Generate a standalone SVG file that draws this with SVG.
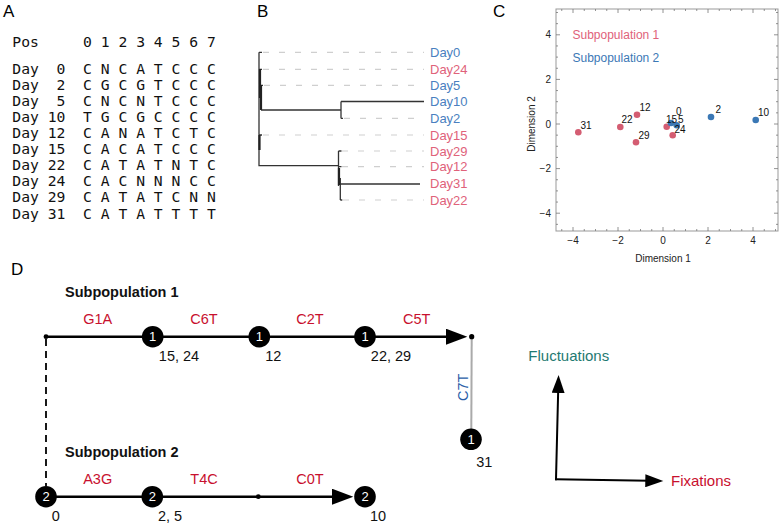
<svg xmlns="http://www.w3.org/2000/svg" width="780" height="523" viewBox="0 0 780 523">
<style>
text{font-family:"Liberation Sans",Arial,Helvetica,sans-serif}
.plab{font-size:17px;fill:#000}
.mono{font-family:"DejaVu Sans Mono",monospace;font-size:14.7px;fill:#111}
.leafB{font-size:13px;fill:#4a7fc0}
.leafR{font-size:13px;fill:#e0627a}
.tree{stroke:#333;stroke-width:1.3;fill:none}
.lead{stroke:#cfcfcf;stroke-width:1.2;stroke-dasharray:6 10;fill:none}
.tick{font-size:10px;fill:#222}
.axl{font-size:10px;fill:#222}
.pl{font-size:10px;fill:#111}
.pr{fill:#d45d72}
.pb{fill:#3b78b5}
.mut{font-size:14.5px;fill:#c8102e;text-anchor:middle}
.day{font-size:14.5px;fill:#111;text-anchor:middle}
.sub{font-size:14.5px;font-weight:bold;fill:#111}
.node circle{fill:#000}
.node text{font-size:13px;fill:#fff;text-anchor:middle}
.main{stroke:#000;stroke-width:2.5;fill:none}
</style>
<defs>
<marker id="big" markerUnits="userSpaceOnUse" markerWidth="22" markerHeight="16" refX="4" refY="8" orient="auto">
<path d="M0,0 L21.3,8 L0,16 z" fill="#000"/>
</marker>
<marker id="ax" markerUnits="userSpaceOnUse" markerWidth="19" markerHeight="13" refX="3" refY="6.5" orient="auto">
<path d="M0,0 L18,6.5 L0,13 z" fill="#000"/>
</marker>
</defs>

<!-- Panel labels -->
<text class="plab" x="3" y="17">A</text>
<text class="plab" x="257" y="17">B</text>
<text class="plab" x="493" y="17">C</text>
<text class="plab" x="11" y="275">D</text>

<!-- Panel A -->
<g id="alignment">
<text class="mono" x="12.3" y="47">Pos</text>
<text class="mono" x="83.1" y="47">0 1 2 3 4 5 6 7</text>
<text class="mono" x="12.3" y="73.6">Day</text><text class="mono" x="65.4" y="73.6" text-anchor="end">0</text><text class="mono" x="83.1" y="73.6">C N C A T C C C</text>
<text class="mono" x="12.3" y="89.7">Day</text><text class="mono" x="65.4" y="89.7" text-anchor="end">2</text><text class="mono" x="83.1" y="89.7">C G C G T C C C</text>
<text class="mono" x="12.3" y="105.8">Day</text><text class="mono" x="65.4" y="105.8" text-anchor="end">5</text><text class="mono" x="83.1" y="105.8">C N C N T C C C</text>
<text class="mono" x="12.3" y="121.9">Day</text><text class="mono" x="65.4" y="121.9" text-anchor="end">10</text><text class="mono" x="83.1" y="121.9">T G C G C C C C</text>
<text class="mono" x="12.3" y="138">Day</text><text class="mono" x="65.4" y="138" text-anchor="end">12</text><text class="mono" x="83.1" y="138">C A N A T C T C</text>
<text class="mono" x="12.3" y="154.1">Day</text><text class="mono" x="65.4" y="154.1" text-anchor="end">15</text><text class="mono" x="83.1" y="154.1">C A C A T C C C</text>
<text class="mono" x="12.3" y="170.2">Day</text><text class="mono" x="65.4" y="170.2" text-anchor="end">22</text><text class="mono" x="83.1" y="170.2">C A T A T N T C</text>
<text class="mono" x="12.3" y="186.3">Day</text><text class="mono" x="65.4" y="186.3" text-anchor="end">24</text><text class="mono" x="83.1" y="186.3">C A C N N N C C</text>
<text class="mono" x="12.3" y="202.4">Day</text><text class="mono" x="65.4" y="202.4" text-anchor="end">29</text><text class="mono" x="83.1" y="202.4">C A T A T C N N</text>
<text class="mono" x="12.3" y="218.5">Day</text><text class="mono" x="65.4" y="218.5" text-anchor="end">31</text><text class="mono" x="83.1" y="218.5">C A T A T T T T</text>
</g>

<!-- Panel B -->
<g id="tree">
<path class="lead" d="M263,52.3 H424 M263,69.3 H424 M264,85.3 H424 M344,118.3 H424 M263,135 H424 M342,151 H424 M342,166.7 H424 M343,200 H424"/>
<path class="tree" d="M259,52.3 V165.7 H338.5 M338.5,151 V186 M340.3,178 V200 M340.3,184 H420 M261,110 H341 M341,101.5 V118.5 M341,101.5 H424 M259,52.3 h3 M259,69.3 h3 M260,85.3 h3 M341,118.3 h2 M259,135 h3 M338.5,151 h3 M338.5,166.7 h3 M340.3,200 h2"/>
<path d="M260,69 V98 M261,85 V110 M259.5,135 V150 M339,168 V185" stroke="#222" stroke-width="2.2" fill="none"/>
<text class="leafB" x="430" y="57">Day0</text>
<text class="leafR" x="430" y="74">Day24</text>
<text class="leafB" x="430" y="90">Day5</text>
<text class="leafB" x="430" y="105.7">Day10</text>
<text class="leafB" x="430" y="123">Day2</text>
<text class="leafR" x="430" y="139.7">Day15</text>
<text class="leafR" x="430" y="155.7">Day29</text>
<text class="leafR" x="430" y="171.4">Day12</text>
<text class="leafR" x="430" y="188">Day31</text>
<text class="leafR" x="430" y="204.7">Day22</text>
</g>

<!-- Panel C -->
<g id="scatter">
<rect x="556" y="9" width="222" height="222" fill="none" stroke="#999" stroke-width="1"/>
<path stroke="#777" stroke-width="0.8" fill="none" d="
M573,231 v-4 M618,231 v-4 M663,231 v-4 M708,231 v-4 M753,231 v-4
M573,9 v4 M618,9 v4 M663,9 v4 M708,9 v4 M753,9 v4
M561.75,231 v-2 M584.25,231 v-2 M595.5,231 v-2 M606.75,231 v-2 M629.25,231 v-2 M640.5,231 v-2 M651.75,231 v-2 M674.25,231 v-2 M685.5,231 v-2 M696.75,231 v-2 M719.25,231 v-2 M730.5,231 v-2 M741.75,231 v-2 M764.25,231 v-2 M775.5,231 v-2
M561.75,9 v2 M584.25,9 v2 M595.5,9 v2 M606.75,9 v2 M629.25,9 v2 M640.5,9 v2 M651.75,9 v2 M674.25,9 v2 M685.5,9 v2 M696.75,9 v2 M719.25,9 v2 M730.5,9 v2 M741.75,9 v2 M764.25,9 v2 M775.5,9 v2
M556,34.8 h4 M556,79.4 h4 M556,124 h4 M556,168.6 h4 M556,213.2 h4
M778,34.8 h-4 M778,79.4 h-4 M778,124 h-4 M778,168.6 h-4 M778,213.2 h-4
M556,12.5 h2 M556,23.65 h2 M556,45.95 h2 M556,57.1 h2 M556,68.25 h2 M556,90.55 h2 M556,101.7 h2 M556,112.85 h2 M556,135.15 h2 M556,146.3 h2 M556,157.45 h2 M556,179.75 h2 M556,190.9 h2 M556,202.05 h2 M556,224.35 h2
M778,12.5 h-2 M778,23.65 h-2 M778,45.95 h-2 M778,57.1 h-2 M778,68.25 h-2 M778,90.55 h-2 M778,101.7 h-2 M778,112.85 h-2 M778,135.15 h-2 M778,146.3 h-2 M778,157.45 h-2 M778,179.75 h-2 M778,190.9 h-2 M778,202.05 h-2 M778,224.35 h-2"/>
<g class="tick" text-anchor="middle">
<text x="573" y="244">−4</text><text x="618" y="244">−2</text><text x="663" y="244">0</text><text x="708" y="244">2</text><text x="753" y="244">4</text>
</g>
<g class="tick" text-anchor="end">
<text x="551" y="38.4">4</text><text x="551" y="83">2</text><text x="551" y="127.6">0</text><text x="551" y="172.2">−2</text><text x="551" y="216.8">−4</text>
</g>
<text class="axl" x="663" y="261.5" text-anchor="middle">Dimension 1</text>
<text class="axl" transform="translate(535.3,124) rotate(-90)" text-anchor="middle">Dimension 2</text>
<text x="572.5" y="39" font-size="12" fill="#e0627a">Subpopulation 1</text>
<text x="572.5" y="61.6" font-size="12" fill="#3b78b5">Subpopulation 2</text>
<circle class="pr" cx="578.3" cy="132.3" r="3.3"/>
<circle class="pr" cx="620.3" cy="127" r="3.3"/>
<circle class="pr" cx="637" cy="114.7" r="3.3"/>
<circle class="pr" cx="636" cy="142.3" r="3.3"/>
<circle class="pr" cx="666.7" cy="126.7" r="3.3"/>
<circle class="pr" cx="672.7" cy="135.3" r="3.3"/>
<circle class="pb" cx="671" cy="123" r="3.3"/>
<circle class="pb" cx="676.7" cy="125.3" r="3.3"/>
<circle class="pb" cx="711" cy="117" r="3.3"/>
<circle class="pb" cx="755.7" cy="120" r="3.3"/>
<text class="pl" x="580.5" y="129">31</text>
<text class="pl" x="621.5" y="122.5">22</text>
<text class="pl" x="639.5" y="111">12</text>
<text class="pl" x="638.5" y="139">29</text>
<text class="pl" x="666" y="123">15</text>
<text class="pl" x="676" y="115">0</text>
<text class="pl" x="678" y="123">5</text>
<text class="pl" x="674.5" y="132.5">24</text>
<text class="pl" x="715.5" y="113">2</text>
<text class="pl" x="758" y="115.5">10</text>
</g>

<!-- Panel D -->
<text class="sub" x="65" y="297">Subpopulation 1</text>
<text class="sub" x="65" y="457">Subpopulation 2</text>

<g id="connectors">
<line class="main" x1="46" y1="336.7" x2="450" y2="336.7" marker-end="url(#big)"/>
<line class="main" x1="46" y1="496.7" x2="336" y2="496.7" marker-end="url(#big)"/>
<line x1="46" y1="339" x2="46" y2="486" stroke="#000" stroke-width="1.8" stroke-dasharray="7 5"/>
<line x1="471.7" y1="336.7" x2="471.3" y2="430" stroke="#aaa" stroke-width="2"/>
<line x1="556" y1="479.3" x2="558.2" y2="390" stroke="#000" stroke-width="2" stroke-linecap="square" marker-end="url(#ax)"/>
<line x1="556" y1="479.3" x2="648.3" y2="480.8" stroke="#000" stroke-width="2" stroke-linecap="square" marker-end="url(#ax)"/>
<circle cx="46" cy="336.7" r="2.4" fill="#000"/>
<circle cx="471.7" cy="336.7" r="2.6" fill="#000"/>
<circle cx="258.3" cy="496.7" r="2.4" fill="#000"/>
<text class="mut" x="97.7" y="324">G1A</text>
<text class="mut" x="204" y="324">C6T</text>
<text class="mut" x="310" y="324">C2T</text>
<text class="mut" x="416.7" y="324">C5T</text>
<text class="mut" x="97.7" y="483.5">A3G</text>
<text class="mut" x="204" y="483.5">T4C</text>
<text class="mut" x="310" y="483.5">C0T</text>
<text font-size="14.5" fill="#2b5ea8" text-anchor="middle" transform="translate(467.5,387.3) rotate(-90)">C7T</text>
</g>

<g id="n1a" class="node"><circle cx="152.7" cy="336.7" r="10.8"/><text x="152.7" y="341.4">1</text></g>
<g id="n1b" class="node"><circle cx="259.3" cy="336.7" r="10.8"/><text x="259.3" y="341.4">1</text></g>
<g id="n1c" class="node"><circle cx="365" cy="336.7" r="10.8"/><text x="365" y="341.4">1</text></g>
<g id="n1d" class="node"><circle cx="471" cy="439.3" r="10.8"/><text x="471" y="444">1</text></g>
<g id="n2a" class="node"><circle cx="46" cy="496.7" r="10.8"/><text x="46" y="501.4">2</text></g>
<g id="n2b" class="node"><circle cx="152.3" cy="496.7" r="10.8"/><text x="152.3" y="501.4">2</text></g>
<g id="n2c" class="node"><circle cx="365" cy="496.7" r="10.8"/><text x="365" y="501.4">2</text></g>

<g id="daylabels">
<text class="day" x="179" y="361">15, 24</text>
<text class="day" x="273.3" y="361">12</text>
<text class="day" x="391" y="361">22, 29</text>
<text class="day" x="484.3" y="466.7">31</text>
<text class="day" x="55.7" y="520.7">0</text>
<text class="day" x="170" y="520.7">2, 5</text>
<text class="day" x="378" y="520.7">10</text>
</g>

<g id="axes">
<text x="528.3" y="361.3" font-size="15" fill="#1f7a72">Fluctuations</text>
<text x="671" y="486.3" font-size="15" fill="#c8102e">Fixations</text>
</g>
</svg>
